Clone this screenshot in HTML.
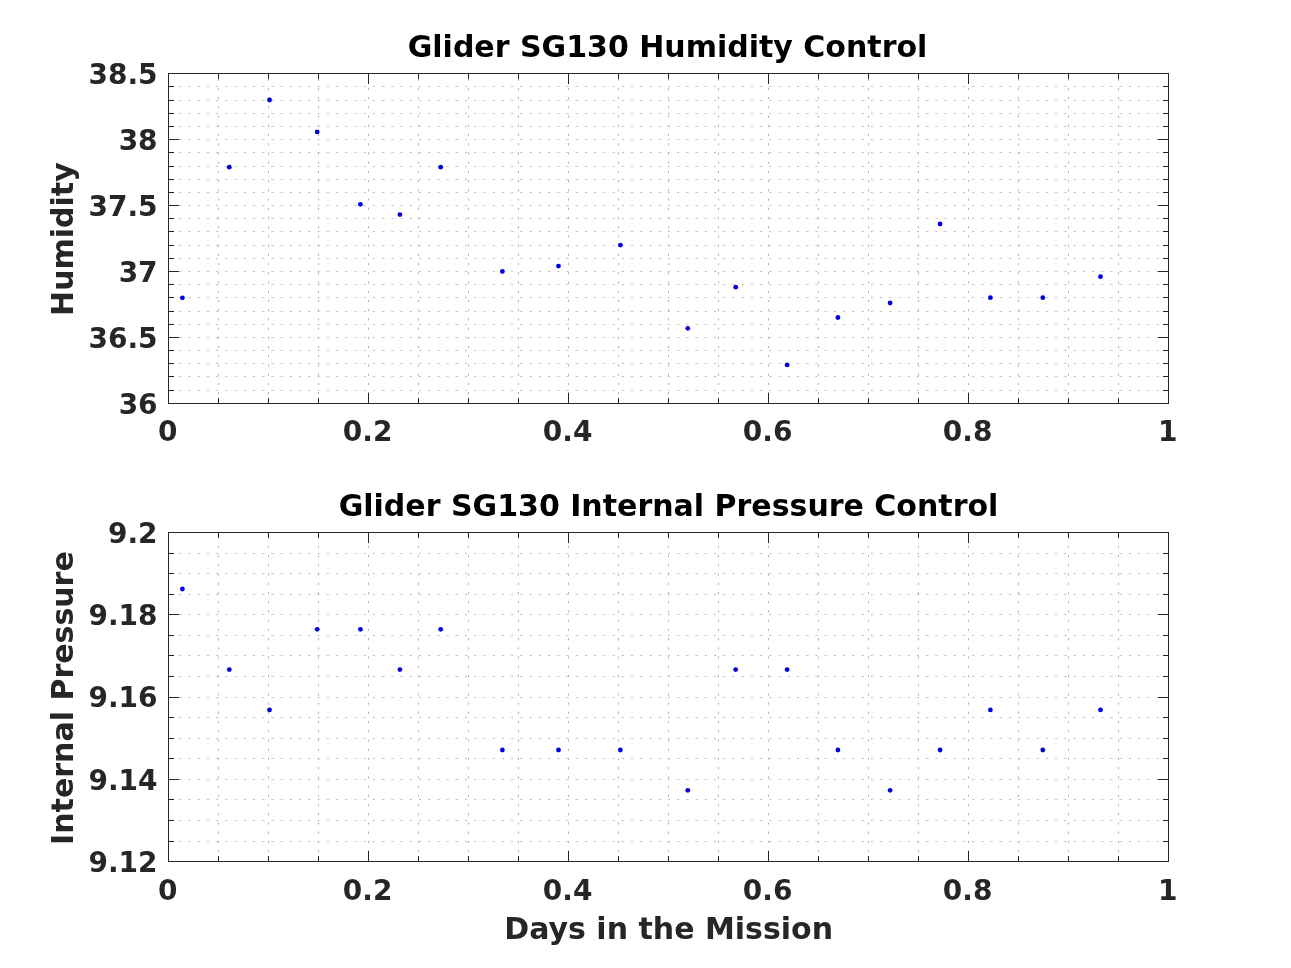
<!DOCTYPE html>
<html><head><meta charset="utf-8"><title>Glider SG130</title>
<style>
html,body{margin:0;padding:0;background:#fff;}
body{width:1291px;height:968px;overflow:hidden;}
svg{display:block;will-change:transform;font-family:"DejaVu Sans", "Liberation Sans", sans-serif;font-weight:bold;}
</style></head><body>
<svg width="1291" height="968" viewBox="0 0 1291 968">
<rect width="1291" height="968" fill="#fff"/>
<path d="M218.50 73.50V403.50M268.50 73.50V403.50M318.50 73.50V403.50M368.50 73.50V403.50M418.50 73.50V403.50M468.50 73.50V403.50M518.50 73.50V403.50M568.50 73.50V403.50M618.50 73.50V403.50M668.50 73.50V403.50M718.50 73.50V403.50M768.50 73.50V403.50M818.50 73.50V403.50M868.50 73.50V403.50M918.50 73.50V403.50M968.50 73.50V403.50M1018.50 73.50V403.50M1068.50 73.50V403.50M1118.50 73.50V403.50" stroke="#b2b2b2" stroke-width="1" stroke-dasharray="2.2 7.02" stroke-dashoffset="4.12" fill="none"/>
<path d="M168.50 86.50H1168.50M168.50 100.50H1168.50M168.50 113.50H1168.50M168.50 126.50H1168.50M168.50 139.50H1168.50M168.50 152.50H1168.50M168.50 166.50H1168.50M168.50 179.50H1168.50M168.50 192.50H1168.50M168.50 205.50H1168.50M168.50 218.50H1168.50M168.50 231.50H1168.50M168.50 245.50H1168.50M168.50 258.50H1168.50M168.50 271.50H1168.50M168.50 284.50H1168.50M168.50 297.50H1168.50M168.50 311.50H1168.50M168.50 324.50H1168.50M168.50 337.50H1168.50M168.50 350.50H1168.50M168.50 363.50H1168.50M168.50 376.50H1168.50M168.50 390.50H1168.50" stroke="#c2c2c2" stroke-width="1" stroke-dasharray="2.2 7.02" stroke-dashoffset="7.74" fill="none"/>
<path d="M218.50 403.50v-5.5M218.50 73.50v5.5M268.50 403.50v-5.5M268.50 73.50v5.5M318.50 403.50v-5.5M318.50 73.50v5.5M368.50 403.50v-10.5M368.50 73.50v10.5M418.50 403.50v-5.5M418.50 73.50v5.5M468.50 403.50v-5.5M468.50 73.50v5.5M518.50 403.50v-5.5M518.50 73.50v5.5M568.50 403.50v-10.5M568.50 73.50v10.5M618.50 403.50v-5.5M618.50 73.50v5.5M668.50 403.50v-5.5M668.50 73.50v5.5M718.50 403.50v-5.5M718.50 73.50v5.5M768.50 403.50v-10.5M768.50 73.50v10.5M818.50 403.50v-5.5M818.50 73.50v5.5M868.50 403.50v-5.5M868.50 73.50v5.5M918.50 403.50v-5.5M918.50 73.50v5.5M968.50 403.50v-10.5M968.50 73.50v10.5M1018.50 403.50v-5.5M1018.50 73.50v5.5M1068.50 403.50v-5.5M1068.50 73.50v5.5M1118.50 403.50v-5.5M1118.50 73.50v5.5M168.50 86.50h5.5M1168.50 86.50h-5.5M168.50 100.50h5.5M1168.50 100.50h-5.5M168.50 113.50h5.5M1168.50 113.50h-5.5M168.50 126.50h5.5M1168.50 126.50h-5.5M168.50 139.50h10.5M1168.50 139.50h-10.5M168.50 152.50h5.5M1168.50 152.50h-5.5M168.50 166.50h5.5M1168.50 166.50h-5.5M168.50 179.50h5.5M1168.50 179.50h-5.5M168.50 192.50h5.5M1168.50 192.50h-5.5M168.50 205.50h10.5M1168.50 205.50h-10.5M168.50 218.50h5.5M1168.50 218.50h-5.5M168.50 231.50h5.5M1168.50 231.50h-5.5M168.50 245.50h5.5M1168.50 245.50h-5.5M168.50 258.50h5.5M1168.50 258.50h-5.5M168.50 271.50h10.5M1168.50 271.50h-10.5M168.50 284.50h5.5M1168.50 284.50h-5.5M168.50 297.50h5.5M1168.50 297.50h-5.5M168.50 311.50h5.5M1168.50 311.50h-5.5M168.50 324.50h5.5M1168.50 324.50h-5.5M168.50 337.50h10.5M1168.50 337.50h-10.5M168.50 350.50h5.5M1168.50 350.50h-5.5M168.50 363.50h5.5M1168.50 363.50h-5.5M168.50 376.50h5.5M1168.50 376.50h-5.5M168.50 390.50h5.5M1168.50 390.50h-5.5" stroke="#262626" stroke-width="1" fill="none"/>
<rect x="168.5" y="73.5" width="1000.0" height="330.0" fill="none" stroke="#262626" stroke-width="1"/>
<circle cx="182.4" cy="297.8" r="2.4" fill="#0000dc"/>
<circle cx="229.3" cy="167.2" r="2.4" fill="#0000dc"/>
<circle cx="269.5" cy="100.0" r="2.4" fill="#0000dc"/>
<circle cx="317.2" cy="131.9" r="2.4" fill="#0000dc"/>
<circle cx="360.4" cy="204.3" r="2.4" fill="#0000dc"/>
<circle cx="399.9" cy="214.6" r="2.4" fill="#0000dc"/>
<circle cx="440.7" cy="167.2" r="2.4" fill="#0000dc"/>
<circle cx="502.4" cy="271.4" r="2.4" fill="#0000dc"/>
<circle cx="558.5" cy="266.1" r="2.4" fill="#0000dc"/>
<circle cx="620.4" cy="245.1" r="2.4" fill="#0000dc"/>
<circle cx="687.8" cy="328.3" r="2.4" fill="#0000dc"/>
<circle cx="735.7" cy="287.2" r="2.4" fill="#0000dc"/>
<circle cx="787.1" cy="364.9" r="2.4" fill="#0000dc"/>
<circle cx="837.9" cy="317.5" r="2.4" fill="#0000dc"/>
<circle cx="890.1" cy="303.0" r="2.4" fill="#0000dc"/>
<circle cx="940.1" cy="224.0" r="2.4" fill="#0000dc"/>
<circle cx="990.4" cy="297.7" r="2.4" fill="#0000dc"/>
<circle cx="1042.8" cy="297.7" r="2.4" fill="#0000dc"/>
<circle cx="1100.5" cy="276.7" r="2.4" fill="#0000dc"/>
<text x="157.6" y="83.80" text-anchor="end" font-size="28" fill="#262626">38.5</text>
<text x="157.6" y="149.80" text-anchor="end" font-size="28" fill="#262626">38</text>
<text x="157.6" y="215.80" text-anchor="end" font-size="28" fill="#262626">37.5</text>
<text x="157.6" y="281.80" text-anchor="end" font-size="28" fill="#262626">37</text>
<text x="157.6" y="347.80" text-anchor="end" font-size="28" fill="#262626">36.5</text>
<text x="157.6" y="413.80" text-anchor="end" font-size="28" fill="#262626">36</text>
<text x="167.65" y="441.00" text-anchor="middle" font-size="28" fill="#262626">0</text>
<text x="367.65" y="441.00" text-anchor="middle" font-size="28" fill="#262626">0.2</text>
<text x="567.65" y="441.00" text-anchor="middle" font-size="28" fill="#262626">0.4</text>
<text x="767.65" y="441.00" text-anchor="middle" font-size="28" fill="#262626">0.6</text>
<text x="967.65" y="441.00" text-anchor="middle" font-size="28" fill="#262626">0.8</text>
<text x="1167.65" y="441.00" text-anchor="middle" font-size="28" fill="#262626">1</text>
<text x="667.55" y="56.50" text-anchor="middle" font-size="30" fill="#000">Glider SG130 Humidity Control</text>
<text transform="translate(73.4 239.15) rotate(-90)" text-anchor="middle" font-size="30" fill="#262626">Humidity</text>
<path d="M218.50 532.50V861.50M268.50 532.50V861.50M318.50 532.50V861.50M368.50 532.50V861.50M418.50 532.50V861.50M468.50 532.50V861.50M518.50 532.50V861.50M568.50 532.50V861.50M618.50 532.50V861.50M668.50 532.50V861.50M718.50 532.50V861.50M768.50 532.50V861.50M818.50 532.50V861.50M868.50 532.50V861.50M918.50 532.50V861.50M968.50 532.50V861.50M1018.50 532.50V861.50M1068.50 532.50V861.50M1118.50 532.50V861.50" stroke="#b2b2b2" stroke-width="1" stroke-dasharray="2.2 7.02" stroke-dashoffset="5.12" fill="none"/>
<path d="M168.50 553.50H1168.50M168.50 573.50H1168.50M168.50 594.50H1168.50M168.50 614.50H1168.50M168.50 635.50H1168.50M168.50 655.50H1168.50M168.50 676.50H1168.50M168.50 697.50H1168.50M168.50 717.50H1168.50M168.50 738.50H1168.50M168.50 758.50H1168.50M168.50 779.50H1168.50M168.50 799.50H1168.50M168.50 820.50H1168.50M168.50 841.50H1168.50" stroke="#c2c2c2" stroke-width="1" stroke-dasharray="2.2 7.02" stroke-dashoffset="7.74" fill="none"/>
<path d="M218.50 861.50v-5.5M218.50 532.50v5.5M268.50 861.50v-5.5M268.50 532.50v5.5M318.50 861.50v-5.5M318.50 532.50v5.5M368.50 861.50v-10.5M368.50 532.50v10.5M418.50 861.50v-5.5M418.50 532.50v5.5M468.50 861.50v-5.5M468.50 532.50v5.5M518.50 861.50v-5.5M518.50 532.50v5.5M568.50 861.50v-10.5M568.50 532.50v10.5M618.50 861.50v-5.5M618.50 532.50v5.5M668.50 861.50v-5.5M668.50 532.50v5.5M718.50 861.50v-5.5M718.50 532.50v5.5M768.50 861.50v-10.5M768.50 532.50v10.5M818.50 861.50v-5.5M818.50 532.50v5.5M868.50 861.50v-5.5M868.50 532.50v5.5M918.50 861.50v-5.5M918.50 532.50v5.5M968.50 861.50v-10.5M968.50 532.50v10.5M1018.50 861.50v-5.5M1018.50 532.50v5.5M1068.50 861.50v-5.5M1068.50 532.50v5.5M1118.50 861.50v-5.5M1118.50 532.50v5.5M168.50 553.50h5.5M1168.50 553.50h-5.5M168.50 573.50h5.5M1168.50 573.50h-5.5M168.50 594.50h5.5M1168.50 594.50h-5.5M168.50 614.50h10.5M1168.50 614.50h-10.5M168.50 635.50h5.5M1168.50 635.50h-5.5M168.50 655.50h5.5M1168.50 655.50h-5.5M168.50 676.50h5.5M1168.50 676.50h-5.5M168.50 697.50h10.5M1168.50 697.50h-10.5M168.50 717.50h5.5M1168.50 717.50h-5.5M168.50 738.50h5.5M1168.50 738.50h-5.5M168.50 758.50h5.5M1168.50 758.50h-5.5M168.50 779.50h10.5M1168.50 779.50h-10.5M168.50 799.50h5.5M1168.50 799.50h-5.5M168.50 820.50h5.5M1168.50 820.50h-5.5M168.50 841.50h5.5M1168.50 841.50h-5.5" stroke="#262626" stroke-width="1" fill="none"/>
<rect x="168.5" y="532.5" width="1000.0" height="329.0" fill="none" stroke="#262626" stroke-width="1"/>
<circle cx="182.4" cy="589.0" r="2.4" fill="#0000dc"/>
<circle cx="229.3" cy="669.6" r="2.4" fill="#0000dc"/>
<circle cx="269.5" cy="709.9" r="2.4" fill="#0000dc"/>
<circle cx="317.2" cy="629.3" r="2.4" fill="#0000dc"/>
<circle cx="360.4" cy="629.3" r="2.4" fill="#0000dc"/>
<circle cx="399.9" cy="669.6" r="2.4" fill="#0000dc"/>
<circle cx="440.7" cy="629.3" r="2.4" fill="#0000dc"/>
<circle cx="502.4" cy="750.0" r="2.4" fill="#0000dc"/>
<circle cx="558.5" cy="750.0" r="2.4" fill="#0000dc"/>
<circle cx="620.4" cy="750.0" r="2.4" fill="#0000dc"/>
<circle cx="687.8" cy="790.3" r="2.4" fill="#0000dc"/>
<circle cx="735.7" cy="669.6" r="2.4" fill="#0000dc"/>
<circle cx="787.1" cy="669.6" r="2.4" fill="#0000dc"/>
<circle cx="837.9" cy="750.0" r="2.4" fill="#0000dc"/>
<circle cx="890.1" cy="790.3" r="2.4" fill="#0000dc"/>
<circle cx="940.1" cy="750.0" r="2.4" fill="#0000dc"/>
<circle cx="990.4" cy="709.9" r="2.4" fill="#0000dc"/>
<circle cx="1042.8" cy="750.0" r="2.4" fill="#0000dc"/>
<circle cx="1100.5" cy="709.9" r="2.4" fill="#0000dc"/>
<text x="157.6" y="542.80" text-anchor="end" font-size="28" fill="#262626">9.2</text>
<text x="157.6" y="625.05" text-anchor="end" font-size="28" fill="#262626">9.18</text>
<text x="157.6" y="707.30" text-anchor="end" font-size="28" fill="#262626">9.16</text>
<text x="157.6" y="789.55" text-anchor="end" font-size="28" fill="#262626">9.14</text>
<text x="157.6" y="871.80" text-anchor="end" font-size="28" fill="#262626">9.12</text>
<text x="167.65" y="900.00" text-anchor="middle" font-size="28" fill="#262626">0</text>
<text x="367.65" y="900.00" text-anchor="middle" font-size="28" fill="#262626">0.2</text>
<text x="567.65" y="900.00" text-anchor="middle" font-size="28" fill="#262626">0.4</text>
<text x="767.65" y="900.00" text-anchor="middle" font-size="28" fill="#262626">0.6</text>
<text x="967.65" y="900.00" text-anchor="middle" font-size="28" fill="#262626">0.8</text>
<text x="1167.65" y="900.00" text-anchor="middle" font-size="28" fill="#262626">1</text>
<text x="668.50" y="515.50" text-anchor="middle" font-size="30" fill="#000">Glider SG130 Internal Pressure Control</text>
<text transform="translate(73.4 698.10) rotate(-90)" text-anchor="middle" font-size="30" fill="#262626">Internal Pressure</text>
<text x="668.65" y="938.80" text-anchor="middle" font-size="30" fill="#262626">Days in the Mission</text>
</svg>
</body></html>
